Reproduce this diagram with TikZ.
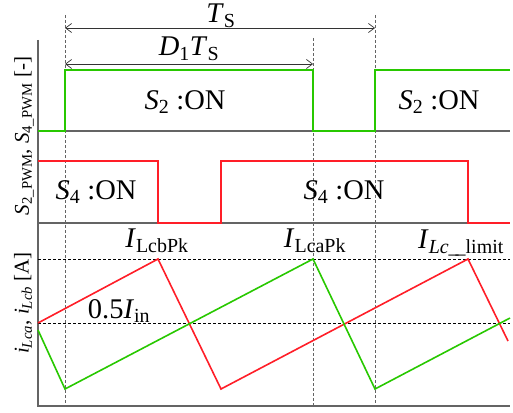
\documentclass[tikz,border=0pt]{standalone}
\usepackage{fontspec}
\setmainfont{Liberation Serif}
\usetikzlibrary{arrows.meta}
\definecolor{pwmgreen}{RGB}{40,200,0}
\definecolor{pwmred}{RGB}{255,30,40}
\definecolor{axisgray}{RGB}{100,100,100}
\begin{document}
\begin{tikzpicture}[x=1pt,y=-1pt,
  wave/.style={line width=1.6pt, line join=miter},
  axisline/.style={line width=1.2pt, axisgray},
  guide/.style={axisgray, line width=0.6pt, dash pattern=on 3pt off 2pt},
  level/.style={black, line width=0.8pt, dash pattern=on 3pt off 2pt},
  period/.style={{Straight Barb[length=6pt,width=9pt]}-{Straight Barb[length=6pt,width=9pt]},
    line width=0.7pt, black!80},
  lbl/.style={font=\fontsize{28.5}{32}\selectfont, inner sep=0pt},
  ylbl/.style={font=\fontsize{21}{25}\selectfont, inner sep=0pt, rotate=90}]
  \useasboundingbox (0,0) rectangle (513,412);
  % Axes and baselines
  \draw[axisline] (38,40) -- (38,406) -- (510,406);
  \draw[axisline] (38,131) -- (510,131);
  \draw[axisline] (38,223) -- (510,223);
  % Switching instants
  \draw[guide] (65,15) -- (65,406);
  \draw[guide] (313,38) -- (313,406);
  \draw[guide] (375,15) -- (375,406);
  % Current levels
  \draw[level] (38,259) -- (510,259);
  \draw[level] (38,323) -- (510,323);
  % Period arrows
  \coordinate (ts-l) at (65,28);
  \coordinate (ts-r) at (375,28);
  \coordinate (dts-l) at (65,64);
  \coordinate (dts-r) at (313,64);
  \draw[period] (ts-l) -- (ts-r);
  \draw[period] (dts-l) -- (dts-r);
  \node[lbl] (ts) at (221,16) {\textit{T}\textsubscript{S}};
  \node[lbl] (dts) at (189,49) {\textit{D}\textsubscript{1}\textit{T}\textsubscript{S}};
  % Gate signals
  \draw[wave, pwmgreen] (38,131) -- (65,131) -- (65,70) -- (313,70) -- (313,131)
    -- (375,131) -- (375,70) -- (510,70);
  \draw[wave, pwmred] (38,161) -- (158,161) -- (158,223) -- (221,223) -- (221,161)
    -- (468,161) -- (468,223) -- (510,223);
  \node[lbl] (s2on-a) at (185,102) {\textit{S}\textsubscript{2} :ON};
  \node[lbl] (s2on-b) at (439,102) {\textit{S}\textsubscript{2} :ON};
  \node[lbl] (s4on-a) at (96,192) {\textit{S}\textsubscript{4} :ON};
  \node[lbl] (s4on-b) at (344,192) {\textit{S}\textsubscript{4} :ON};
  % Inductor currents
  \draw[wave, pwmred] (38,323) -- (158,259) -- (221,389) -- (468,259) -- (508,341);
  \draw[wave, pwmgreen] (38,330) -- (65,389) -- (313,259) -- (375,389) -- (510,318);
  \node[lbl] (lcbpk) at (157,241) {\textit{I}\textsubscript{LcbPk}};
  \node[lbl] (lcapk) at (315,241) {\textit{I}\textsubscript{LcaPk}};
  \node[lbl] (lclim) at (461,243) {\textit{I}\textsubscript{\textit{Lc}\_\kern-3pt\_limit}};
  \node[lbl] (half) at (119,311) {0.5\textit{I}\textsubscript{in}};
  % Axis labels
  \node[ylbl] (ypwm) at (24,136) {\textit{S}\textsubscript{2\_PWM}, \textit{S}\textsubscript{4\_PWM} [-]};
  \node[ylbl] (yil) at (23,303) {\textit{i}\textsubscript{\textit{Lca}}, \textit{i}\textsubscript{\textit{Lcb}} [A]};
\end{tikzpicture}
\end{document}
